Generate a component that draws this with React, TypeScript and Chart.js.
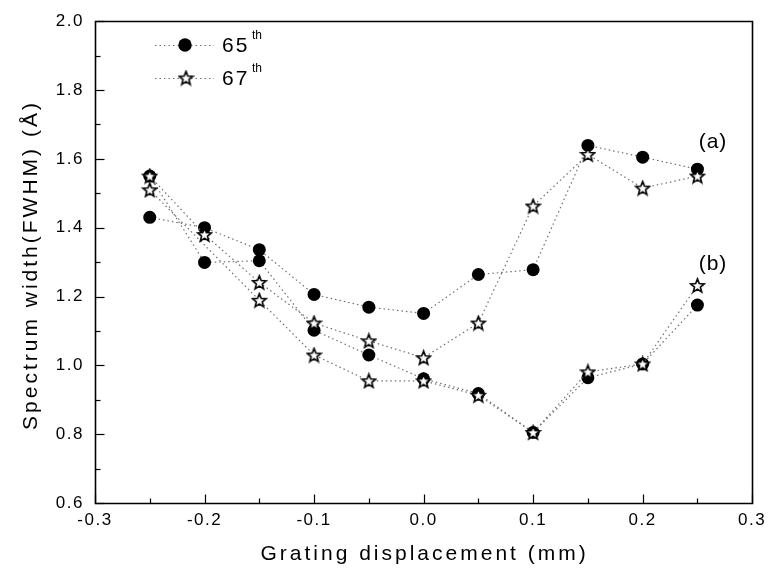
import React, { useEffect, useRef } from "react";
import { Chart, registerables } from "chart.js";

Chart.register(...registerables);

// Grating displacement (mm)
const displacement = [-0.25, -0.2, -0.15, -0.1, -0.05, 0.0, 0.05, 0.1, 0.15, 0.2, 0.25];
// Spectrum width (FWHM) in Å, curve (a)
const order65a = [1.43, 1.40, 1.336, 1.206, 1.169, 1.151, 1.264, 1.278, 1.639, 1.605, 1.570];
const order67a = [1.55, 1.38, 1.241, 1.123, 1.071, 1.022, 1.123, 1.463, 1.613, 1.515, 1.550];
// curve (b)
const order65b = [1.55, 1.299, 1.304, 1.102, 1.030, 0.961, 0.918, 0.805, 0.964, 1.004, 1.175];
const order67b = [1.51, null, 1.189, 1.030, 0.955, 0.955, 0.913, 0.805, 0.981, 1.004, 1.232];

const legendLabels = ["65", "67"];
const curveLabels = ["(a)", "(b)"];
const xTitle = "Grating displacement (mm)";
const yTitle = "Spectrum width(FWHM) (Å)";

const FONT = '"Liberation Sans", Arial, Helvetica, sans-serif';

function makeStar(): HTMLCanvasElement {
  const s = 17;
  const c = document.createElement("canvas");
  c.width = s;
  c.height = s;
  const ctx = c.getContext("2d")!;
  const cx = s / 2;
  const cy = s / 2 + 0.6;
  const R = 7.2;
  const r = 3.1;
  ctx.beginPath();
  for (let i = 0; i < 10; i++) {
    const ang = -Math.PI / 2 + (i * Math.PI) / 5;
    const rad = i % 2 === 0 ? R : r;
    const px = cx + rad * Math.cos(ang);
    const py = cy + rad * Math.sin(ang);
    if (i === 0) ctx.moveTo(px, py);
    else ctx.lineTo(px, py);
  }
  ctx.closePath();
  ctx.fillStyle = "#fff";
  ctx.fill();
  ctx.lineWidth = 1.6;
  ctx.lineJoin = "miter";
  ctx.strokeStyle = "#000";
  ctx.stroke();
  return c;
}

const toPoints = (arr: (number | null)[]) =>
  displacement.map((x, i) => ({ x, y: arr[i] }));

export default function App() {
  const ref = useRef<HTMLCanvasElement | null>(null);

  useEffect(() => {
    document.body.style.margin = "0";
    const canvas = ref.current!;
    const star = makeStar();

    const lineStyle = {
      borderColor: "#707070",
      borderWidth: 1.2,
      borderDash: [1.5, 3],
      fill: false,
      tension: 0,
      spanGaps: true,
    };

    const starDs = (arr: (number | null)[], label: string) => ({
      ...lineStyle,
      label,
      data: toPoints(arr),
      pointStyle: star,
      pointRadius: 7,
    });
    const circleDs = (arr: (number | null)[], label: string) => ({
      ...lineStyle,
      label,
      data: toPoints(arr),
      pointStyle: "circle",
      pointRadius: 6.5,
      pointBackgroundColor: "#000",
      pointBorderColor: "#000",
      pointBorderWidth: 0,
    });

    const decor = {
      id: "decor",
      beforeDraw(chart: any) {
        const ctx = chart.ctx;
        ctx.fillStyle = "#fff";
        ctx.fillRect(0, 0, chart.width, chart.height);
        ctx.letterSpacing = "1.5px";
      },
      afterDraw(chart: any) {
        const ctx = chart.ctx;
        const { left, right, top, bottom } = chart.chartArea;
        const xs = chart.scales.x;
        const ys = chart.scales.y;
        ctx.save();
        ctx.globalAlpha = 1;
        ctx.strokeStyle = "#000";
        ctx.lineWidth = 1.6;
        ctx.setLineDash([]);
        const L = Math.round(left) + 0.5;
        const R = Math.round(right) + 0.5;
        const T = Math.round(top) + 0.5;
        const B = Math.round(bottom) + 0.5;
        ctx.beginPath();
        ctx.moveTo(L, T);
        ctx.lineTo(R, T);
        ctx.lineTo(R, B);
        ctx.lineTo(L, B);
        ctx.closePath();
        ctx.stroke();
        ctx.lineWidth = 1.2;
        // y ticks (inside)
        for (let i = 0; i <= 14; i++) {
          const v = 0.6 + i * 0.1;
          const py = Math.round(ys.getPixelForValue(v)) + 0.5;
          const len = i % 2 === 0 ? 9 : 5;
          ctx.beginPath();
          ctx.moveTo(L, py);
          ctx.lineTo(L + len, py);
          ctx.stroke();
        }
        // x ticks (inside)
        for (let i = 0; i <= 12; i++) {
          const v = -0.3 + i * 0.05;
          const px = Math.round(xs.getPixelForValue(v)) + 0.5;
          const len = i % 2 === 0 ? 9 : 5;
          ctx.beginPath();
          ctx.moveTo(px, B);
          ctx.lineTo(px, B - len);
          ctx.stroke();
        }

        ctx.fillStyle = "#000";
        ctx.letterSpacing = "3px";
        ctx.font = `21px ${FONT}`;
        ctx.textAlign = "center";
        ctx.textBaseline = "middle";
        ctx.fillText(xTitle, (left + right) / 2 + 1, 554);
        ctx.save();
        ctx.translate(31, 265);
        ctx.rotate(-Math.PI / 2);
        ctx.fillText(yTitle, 0, 0);
        ctx.restore();

        // curve labels
        ctx.letterSpacing = "1px";
        ctx.font = `21px ${FONT}`;
        ctx.fillText(curveLabels[0], 713, 142);
        ctx.fillText(curveLabels[1], 713, 264);

        // legend
        const rows = [45, 78];
        rows.forEach((ly, k) => {
          ctx.save();
          ctx.strokeStyle = "#707070";
          ctx.lineWidth = 1.2;
          ctx.setLineDash([1.5, 3]);
          ctx.beginPath();
          ctx.moveTo(155, ly + 0.5);
          ctx.lineTo(214, ly + 0.5);
          ctx.stroke();
          ctx.restore();
          if (k === 0) {
            ctx.beginPath();
            ctx.arc(185, ly, 6.7, 0, Math.PI * 2);
            ctx.fillStyle = "#000";
            ctx.fill();
          } else {
            ctx.drawImage(star, 186 - star.width / 2, ly - star.height / 2);
          }
          ctx.fillStyle = "#000";
          ctx.textAlign = "left";
          ctx.textBaseline = "alphabetic";
          ctx.letterSpacing = "2px";
          ctx.font = `21px ${FONT}`;
          ctx.fillText(legendLabels[k], 222, ly + 7);
          ctx.letterSpacing = "0px";
          ctx.font = `12px ${FONT}`;
          ctx.fillText("th", 252, ly - 6);
        });
        ctx.restore();
        ctx.letterSpacing = "0px";
      },
    };

    const fmt = (v: any) => {
      const n = Number(v);
      return (Math.abs(n) < 1e-9 ? 0 : n).toFixed(1);
    };

    const chart = new Chart(canvas, {
      type: "line",
      data: {
        datasets: [
          starDs(order67a, "67th (a)"),
          starDs(order67b, "67th (b)"),
          circleDs(order65a, "65th (a)"),
          circleDs(order65b, "65th (b)"),
        ] as any,
      },
      options: {
        responsive: false,
        animation: false,
        devicePixelRatio: 1,
        layout: { padding: { top: 18, right: 14, left: 0, bottom: 0 } },
        plugins: {
          legend: { display: false },
          tooltip: { enabled: false },
        },
        scales: {
          x: {
            type: "linear",
            min: -0.3,
            max: 0.3,
            grid: { display: false, drawTicks: false },
            border: { display: false },
            ticks: {
              stepSize: 0.1,
              callback: fmt,
              color: "#000",
              font: { family: FONT, size: 17 },
              padding: 7,
              maxRotation: 0,
            },
            afterFit: (s: any) => {
              s.height = 69;
            },
          },
          y: {
            type: "linear",
            min: 0.6,
            max: 2.0,
            grid: { display: false, drawTicks: false },
            border: { display: false },
            ticks: {
              stepSize: 0.2,
              callback: fmt,
              color: "#000",
              font: { family: FONT, size: 17 },
              padding: 11,
            },
            afterFit: (s: any) => {
              s.width = 95;
            },
          },
        },
      } as any,
      plugins: [decor],
    });

    return () => chart.destroy();
  }, []);

  return (
    <div style={{ position: "fixed", left: 0, top: 0, width: 771, height: 572, background: "#fff" }}>
      <canvas ref={ref} width={771} height={572} style={{ width: 771, height: 572, display: "block" }} />
    </div>
  );
}
